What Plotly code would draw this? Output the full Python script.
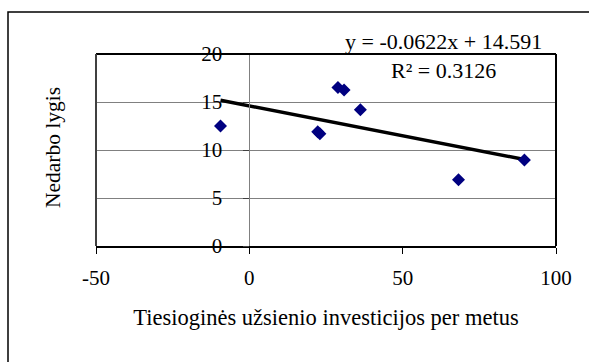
import plotly.graph_objects as go

# Data
fdi = [-9.4, 22.3, 23.0, 28.9, 30.9, 36.2, 68.2, 89.7]
unemployment = [12.5, 11.9, 11.7, 16.5, 16.25, 14.2, 6.9, 8.96]
slope = -0.0622
intercept = 14.591
r2 = 0.3126
x_ticks = [-50, 0, 50, 100]
x_tick_labels = ["-50", "0", "50", "100"]
y_ticks = [0, 5, 10, 15, 20]

W, H = 589, 362
L, R, T, B = 96, 33, 54, 116
pw, ph = W - L - R, H - T - B

xmin, xmax = min(fdi), max(fdi)
trend_x = [xmin, xmax]
trend_y = [slope * v + intercept for v in trend_x]

font = "Liberation Serif, Times New Roman, serif"

fig = go.Figure()
fig.add_trace(go.Scatter(x=trend_x, y=trend_y, mode="lines",
                         line=dict(color="black", width=3.5), hoverinfo="skip"))
fig.add_trace(go.Scatter(x=fdi, y=unemployment, mode="markers",
                         marker=dict(symbol="diamond", size=10, color="#000080",
                                     line=dict(width=0))))

fig.update_layout(
    width=W, height=H,
    margin=dict(l=L, r=R, t=T, b=B, autoexpand=False),
    paper_bgcolor="white", plot_bgcolor="white",
    showlegend=False,
    font=dict(family=font, size=21, color="black"),
    xaxis=dict(range=[-50, 100], tickvals=x_ticks, ticktext=x_tick_labels,
               showgrid=False, zeroline=False,
               showline=True, linecolor="black", linewidth=2,
               ticks="outside", ticklen=6, tickcolor="black", tickwidth=1,
               ticklabelstandoff=6,
               title=dict(text="Tiesioginės užsienio investicijos per metus",
                          font=dict(size=22.5), standoff=20)),
    yaxis=dict(range=[0, 20], tickvals=y_ticks, showgrid=True, gridcolor="#808080",
               gridwidth=1, zeroline=False, showline=True, linecolor="#808080",
               linewidth=1, anchor="free", position=1/3,
               ticks="outside", ticklen=6, tickcolor="#404040", tickwidth=1,
               ticklabelstandoff=17),
)

# plot-area border (top/right black, left dark gray)
fig.add_shape(type="line", xref="paper", yref="paper", x0=0, x1=1, y0=1, y1=1,
              line=dict(color="black", width=2))
fig.add_shape(type="line", xref="paper", yref="paper", x0=1, x1=1, y0=0, y1=1,
              line=dict(color="black", width=2))
fig.add_shape(type="line", xref="paper", yref="paper", x0=0, x1=0, y0=0, y1=1,
              line=dict(color="#404040", width=2))

# outer chart frame (only left and top visible)
fx0 = (8 - L) / pw
fy1 = (H - B - 12) / ph
fig.add_shape(type="rect", xref="paper", yref="paper", x0=fx0, x1=1.2, y0=-0.7, y1=fy1,
              line=dict(color="black", width=1.5), layer="below")

# y-axis title
fig.add_annotation(xref="paper", yref="paper", x=(53 - L) / pw, y=(H - B - 148) / ph,
                   text="Nedarbo lygis", textangle=-90, showarrow=False,
                   font=dict(size=21.5), xanchor="center", yanchor="middle")

# trendline equation
fig.add_annotation(xref="paper", yref="paper", x=(443 - L) / pw, y=(H - B - 56) / ph,
                   text=f"y = {slope}x + {intercept}<br>R² = {r2}",
                   showarrow=False, align="center", font=dict(size=22),
                   xanchor="center", yanchor="middle")

fig.write_html("out.html")
